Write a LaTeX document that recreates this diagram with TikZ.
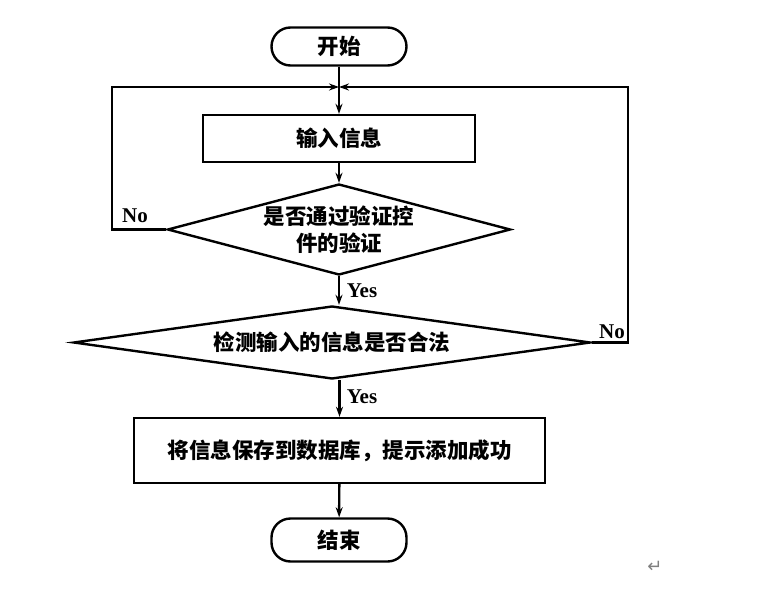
\documentclass[tikz,border=0pt]{standalone}
\usepackage{fontspec}
\setmainfont{Liberation Serif}
\newfontfamily\cjk{Noto Sans CJK SC}
\newfontfamily\symb{DejaVu Sans}
\usetikzlibrary{shapes.geometric,arrows.meta}

\begin{document}
\begin{tikzpicture}[x=1pt,y=-1pt,line width=2.4pt,
    >={Stealth[length=10pt,width=7pt]},
    zh/.style={font=\cjk\bfseries\fontsize{21.5}{27}\selectfont},
    term/.style={zh,draw,rounded corners=19pt,minimum width=135pt,inner sep=0pt},
    box/.style={zh,draw,inner sep=0pt},
    dec/.style={zh,draw,diamond,inner sep=0pt,align=center},
    lbl/.style={font=\bfseries\fontsize{21}{24}\selectfont}]
    \useasboundingbox (0,0) rectangle (776,594);
    \node[term,minimum height=38pt] (start) at (339,46.5) {开始};
    \node[box,minimum width=272pt,minimum height=47pt] (input) at (339,138.5) {输入信息};
    \node[dec,aspect=3.77,minimum width=343pt,minimum height=91pt] (check1) at (339,229.5) {是否通过验证控\\件的验证};
    \node[dec,aspect=7.08,minimum width=517pt,minimum height=73pt] (check2) at (332,342.5) {检测输入的信息是否合法};
    \node[box,minimum width=411pt,minimum height=65pt] (save) at (339.5,450.5) {将信息保存到数据库，提示添加成功};
    \node[term,minimum height=43pt] (stop) at (339,540) {结束};
    \coordinate (merge) at (339,87);
    \coordinate (lcorner) at (112,87);
    \coordinate (rcorner) at (628,87);
    \draw (start) -- (merge);
    \draw[->] (merge) -- (input);
    \draw[->] (input) -- (check1);
    \draw[->] (check1.south) -- (check1.south |- check2.north);
    \draw[->] (save.north |- check2.south) -- (save.north);
    \draw[->] (save) -- (stop);
    \draw[->] (check1.west) -| (lcorner) -- (merge);
    \draw[->] (check2.east) -| (rcorner) -- (merge);
    \node[lbl] (no1) at (135,216) {No};
    \node[lbl] (yes1) at (362,291) {Yes};
    \node[lbl] (no2) at (612,332) {No};
    \node[lbl] (yes2) at (362,397) {Yes};
    \node[text=gray,font=\symb\fontsize{18}{18}\selectfont] (mark) at (655,567) {↵};
\end{tikzpicture}
\end{document}
